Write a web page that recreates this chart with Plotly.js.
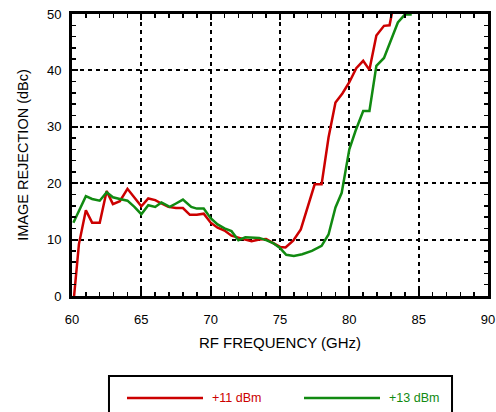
<!DOCTYPE html>
<html><head><meta charset="utf-8">
<script src="https://cdn.plot.ly/plotly-3.0.1.min.js"></script>
<style>body{margin:0;padding:0;background:#fff}#chart{width:496px;height:412px}</style>
</head><body><div id="chart"></div>
<script>
const freq11 = [60.15,60.5,61,61.45,62,62.5,62.95,63.45,64,64.5,65,65.5,66,66.45,66.95,67.5,68,68.5,69,69.5,70,70.5,71,71.5,72,72.5,72.95,73.5,74,74.5,75,75.4,75.95,76.5,77,77.5,78,78.5,79,79.5,80,80.5,81,81.45,81.95,82.5,82.9,83.1];
const val11 = [0,9.2,15.2,13,13,18.6,16.3,16.8,19.0,17.4,15.9,17.3,17.0,16.4,15.8,15.6,15.6,14.4,14.4,14.6,13,12.1,11.6,10.7,10.3,10.0,9.7,10.0,10.1,9.4,8.7,8.6,9.8,11.8,16,19.8,19.8,28.1,34.3,35.9,37.9,40.4,41.7,40.1,46.2,47.9,48.0,50.5];
const freq13 = [60.1,61,61.45,62,62.5,62.95,63.45,64,64.5,65,65.5,66,66.45,67.05,67.5,68,68.6,69,69.5,70,70.5,71,71.5,72,72.5,72.95,73.5,74,74.5,75,75.45,76,76.6,77.3,78,78.5,79,79.45,80,80.45,81,81.45,81.95,82.5,83,83.5,84,84.5];
const val13 = [13,17.7,17.2,16.9,18.4,17.5,17.2,16.9,15.8,14.5,16.1,15.8,16.6,15.8,16.4,17.1,15.8,15.5,15.5,13.8,12.7,12.0,11.5,9.9,10.4,10.3,10.3,9.9,9.4,8.5,7.3,7.1,7.4,8.0,8.9,10.9,15.7,18.3,26.0,29.3,32.8,32.8,40.8,42.2,45.3,48.5,49.9,49.9];
const names = ['+11 dBm','+13 dBm'];
const colors = ['#cc0000','#118a11'];
const xTicks = [60,65,70,75,80,85,90];
const yTicks = [0,10,20,30,40,50];

const traces = [
  {x: freq11, y: val11, name: names[0], mode:'lines', line:{color:colors[0], width:2.5}},
  {x: freq13, y: val13, name: names[1], mode:'lines', line:{color:colors[1], width:2.5}}
];
const fam = '"Liberation Sans", Arial, Helvetica, sans-serif';

// custom legend drawn in paper coordinates (box below the plot)
const legX0 = 0.0889, legX1 = 0.9135, legY0 = -0.2837, legY1 = -0.43, legRowY = -0.3617;
const entryX = [0.1322, 0.5577], lineLen = 0.1827, textGap = 0.017;
const shapes = [{type:'rect', xref:'paper', yref:'paper', x0:legX0, x1:legX1, y0:legY0, y1:legY1,
  line:{color:'#000', width:2}, fillcolor:'rgba(0,0,0,0)'}];
const annotations = [];
names.forEach((n,i)=>{
  shapes.push({type:'line', xref:'paper', yref:'paper', x0:entryX[i], x1:entryX[i]+lineLen, y0:legRowY, y1:legRowY,
    line:{color:colors[i], width:2.5}});
  annotations.push({xref:'paper', yref:'paper', x:entryX[i]+lineLen+textGap, y:legRowY, xanchor:'left', yanchor:'middle',
    text:n, showarrow:false, font:{family:fam, size:12.5, color:colors[i]}});
});

const layout = {
  width:496, height:412,
  margin:{l:72, r:8, t:14, b:116},
  paper_bgcolor:'#fff', plot_bgcolor:'#fff',
  font:{family:fam, size:13, color:'#000'},
  showlegend:false,
  shapes: shapes,
  annotations: annotations,
  xaxis:{range:[60,90], tickvals:xTicks, ticks:'inside', ticklen:6, tickwidth:2, tickcolor:'#000',
    showline:true, linewidth:3, linecolor:'#000', mirror:'ticks',
    showgrid:true, gridcolor:'#000', gridwidth:2, griddash:'4px,4px', zeroline:false,
    minor:{dtick:1, ticks:'inside', ticklen:4, tickwidth:1.5, tickcolor:'#000', showgrid:false},
    title:{text:'RF FREQUENCY (GHz)', font:{family:fam, size:15}, standoff:12},
    ticklabelstandoff:9, tickfont:{family:fam, size:13}, fixedrange:true},
  yaxis:{range:[0,50], tickvals:yTicks, ticks:'inside', ticklen:6, tickwidth:2, tickcolor:'#000',
    showline:true, linewidth:3, linecolor:'#000', mirror:'ticks',
    showgrid:true, gridcolor:'#000', gridwidth:2, griddash:'4px,4px', zeroline:false,
    minor:{dtick:2, ticks:'inside', ticklen:4, tickwidth:1.5, tickcolor:'#000', showgrid:false},
    title:{text:'\u00A0\u00A0\u00A0\u00A0\u00A0\u00A0\u00A0\u00A0IMAGE REJECTION (dBc)', font:{family:fam, size:14.5}, standoff:15},
    ticklabelstandoff:5, tickfont:{family:fam, size:13}, fixedrange:true}
};
Plotly.newPlot('chart', traces, layout, {displayModeBar:false, staticPlot:true});
</script></body></html>
